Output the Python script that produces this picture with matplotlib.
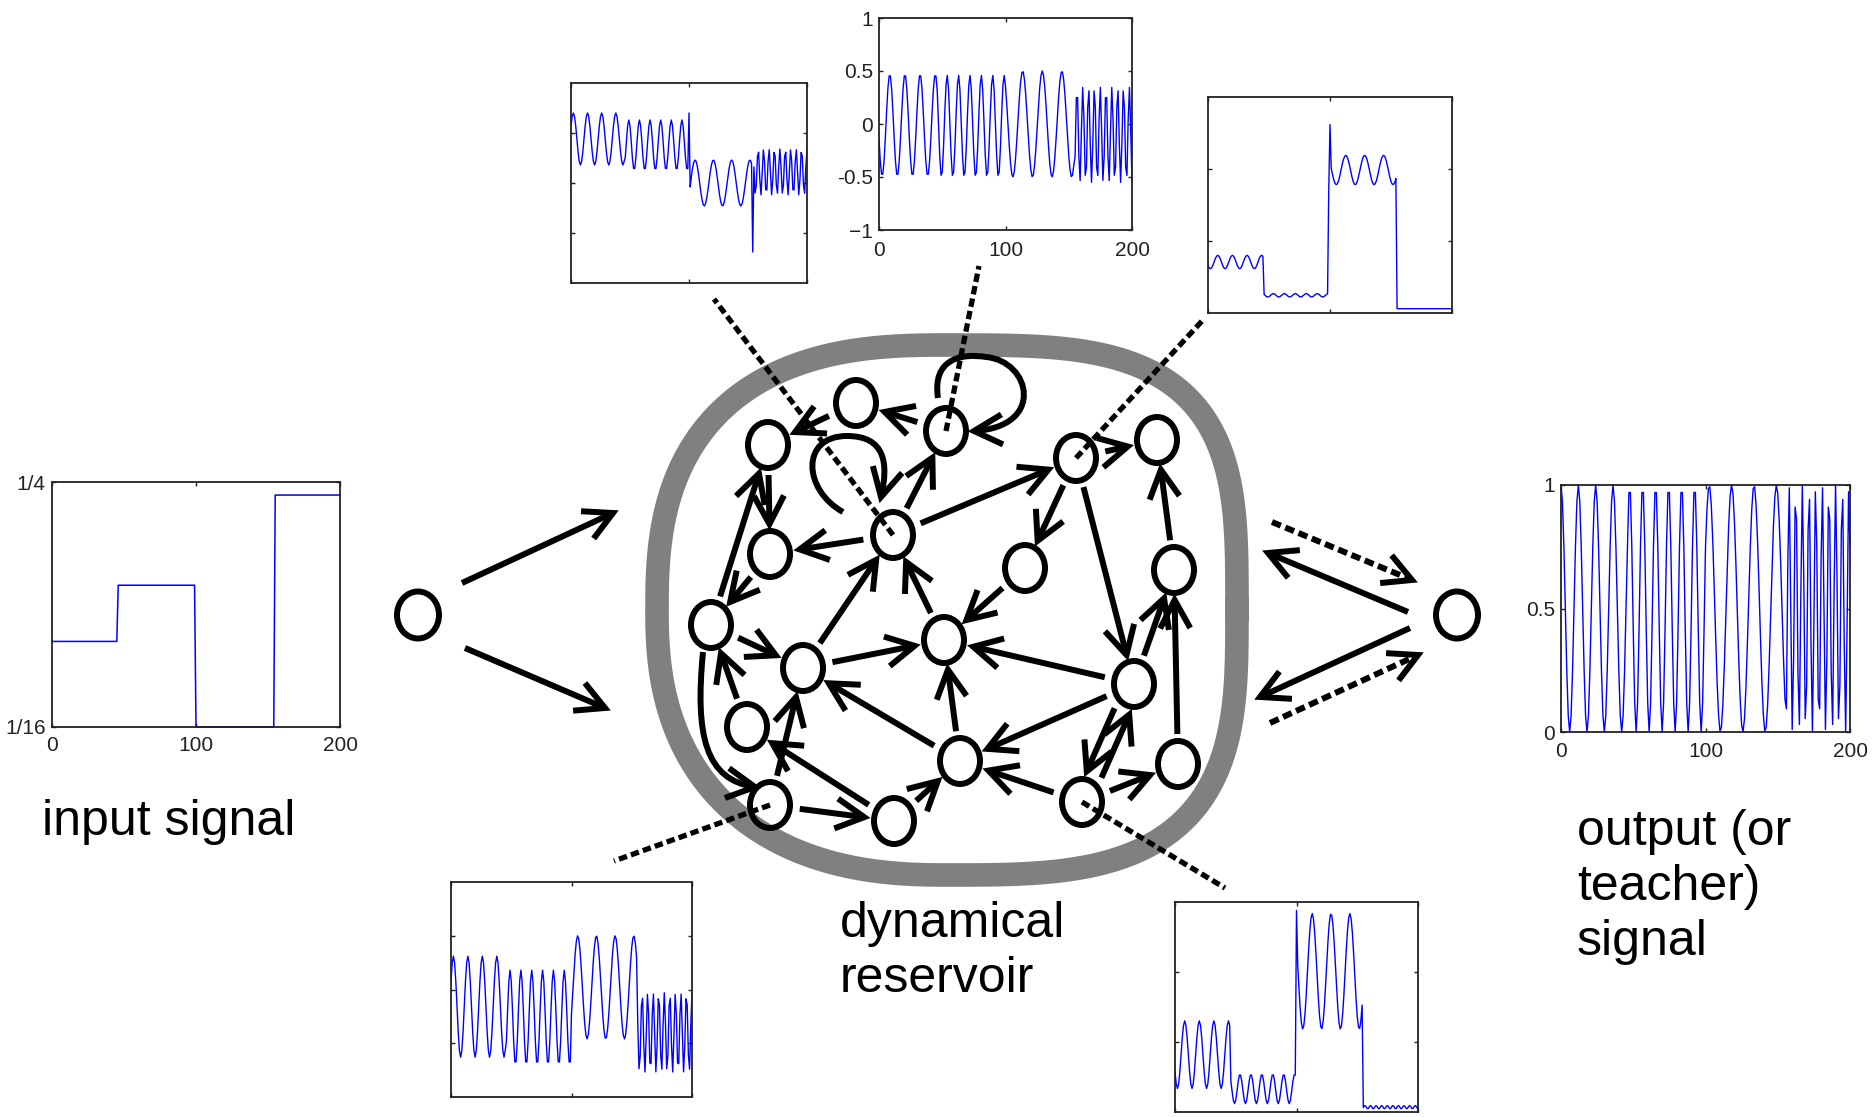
import numpy as np
import matplotlib
matplotlib.use('Agg')
import matplotlib.pyplot as plt
from matplotlib.patches import Ellipse, PathPatch
from matplotlib.path import Path

plt.rcParams['font.family'] = ['Liberation Sans', 'DejaVu Sans']

W, H = 1876, 1117

# ---------------- signals ----------------
seg_edges = [0, 46, 100, 155, 200]          # input switches level here
seg_period = [12.0, 9.0, 15.5, 4.6]         # period of the waves in each segment
input_level = [0.128, 0.171, 0.0625, 0.240]

# centre / amplitude per segment, time of the first peak, isolated spikes
out_center = [0.5, 0.5, 0.5, 0.5]
out_amp = [0.5, 0.5, 0.5, 0.5]
out_peak = 0.0

tc_center = [-0.01, -0.02, 0.0, -0.1]
tc_amp = [0.48, 0.48, 0.5, 0.45]
tc_peak = 8.5

tl_center = [0.44, 0.38, 0.0, 0.11]
tl_amp = [0.26, 0.25, 0.23, 0.23]
tl_peak = 2.0
tl_spike_t = [100, 101, 154]
tl_spike_v = [0.70, -0.04, -0.69]

tr_center = [0.236, 0.082, 0.662, 0.02]
tr_amp = [0.031, 0.008, 0.068, 0.0]
tr_peak = 8.0
tr_spike_t = [99, 100]
tr_spike_v = [0.575, 0.872]

bl_center = [-0.16, -0.26, 0.02, -0.4]
bl_amp = [0.47, 0.44, 0.48, 0.37]
bl_peak = 2.0

br_center = [0.273, 0.11, 0.67, 0.023]
br_amp = [0.161, 0.07, 0.275, 0.008]
br_peak = 8.0
br_spike_t = [100]
br_spike_v = [0.96]

# ---------------- reservoir network ----------------
node_names = list('ABCDEFGHIJKLMNOPQRS')
node_x = [768, 856, 946, 893, 770, 1076, 1157, 1025, 1174, 711,
          803, 944, 1134, 747, 770, 894, 960, 1082, 1178]
node_y = [445, 403, 431, 535, 554, 458, 440, 568, 570, 625,
          668, 640, 684, 727, 805, 821, 761, 802, 764]
edges = [('B', 'A'), ('C', 'B'), ('D', 'C'), ('D', 'F'), ('D', 'E'), ('K', 'D'),
         ('L', 'D'), ('A', 'E'), ('J', 'A'), ('E', 'J'), ('J', 'K'), ('N', 'J'),
         ('O', 'K'), ('P', 'N'), ('Q', 'K'), ('K', 'L'), ('Q', 'L'), ('M', 'L'),
         ('M', 'Q'), ('H', 'L'), ('F', 'H'), ('F', 'G'), ('F', 'M'), ('I', 'G'),
         ('M', 'I'), ('S', 'I'), ('M', 'R'), ('R', 'M'), ('R', 'S'), ('R', 'Q'),
         ('P', 'Q'), ('O', 'P')]
probe_nodes = ['D', 'C', 'F', 'O', 'R']

t = np.arange(seg_edges[0], seg_edges[-1] + 1)
seg_idx = np.clip(np.searchsorted(seg_edges, t, side='right') - 1, 0, len(seg_period) - 1)
per = np.array(seg_period)[seg_idx]
phase = 2 * np.pi * np.concatenate([[0], np.cumsum(1 / per[:-1])])


def wave(center, amp, peak, spike_t=(), spike_v=()):
    y = np.array(center)[seg_idx] + np.array(amp)[seg_idx] * np.cos(phase - 2 * np.pi * peak / seg_period[0])
    for ts, vs in zip(spike_t, spike_v):
        y[ts] = vs
    return y


fig = plt.figure(figsize=(W / 100, H / 100), dpi=100)
bg = fig.add_axes([0, 0, 1, 1])
bg.set_xlim(0, W)
bg.set_ylim(H, 0)
bg.axis('off')

LW = 4.3
DASH = (0, (1.6, 0.8))


def head(tip, u, L=32, ang=28, lw=LW):
    a = np.deg2rad(ang)
    pts = []
    for s in (1, -1):
        c, sn = np.cos(s * a), np.sin(s * a)
        v = np.array([u[0] * c - u[1] * sn, u[0] * sn + u[1] * c])
        pts.append(tip - L * v)
    bg.plot([pts[0][0], tip[0], pts[1][0]], [pts[0][1], tip[1], pts[1][1]],
            color='k', lw=lw, solid_joinstyle='miter', solid_capstyle='butt', zorder=3)


def arrow(p0, p1, dashed=False, lw=LW):
    p0 = np.asarray(p0, float)
    p1 = np.asarray(p1, float)
    u = (p1 - p0) / np.hypot(*(p1 - p0))
    bg.plot([p0[0], p1[0]], [p0[1], p1[1]], color='k', lw=lw,
            ls=DASH if dashed else '-', solid_capstyle='butt', zorder=3)
    head(p1, u, lw=lw)


def curve(pts, lw=LW):
    pts = np.asarray(pts, float)
    codes = [Path.MOVETO] + [Path.CURVE4] * (len(pts) - 1)
    bg.add_patch(PathPatch(Path(pts, codes), fill=False, lw=lw, ec='k', zorder=3))
    u = pts[-1] - pts[-2]
    head(pts[-1], u / np.hypot(*u))


# gray reservoir boundary: rounded square, each corner with its own roundness
cx, cy, ra, rb = 947, 610, 290, 265
th = np.linspace(0, 2 * np.pi, 721)
c, s = np.cos(th), np.sin(th)
nq = np.where(c >= 0, np.where(s < 0, 3.4, 3.2), np.where(s < 0, 2.6, 2.4))
rx = ra * np.sign(c) * np.abs(c) ** (2 / nq)
ry = rb * np.sign(s) * np.abs(s) ** (2 / nq)
bg.plot(cx + rx, cy + ry, color='#808080', lw=17, zorder=1)

pos = {n: np.array([x, y], float) for n, x, y in zip(node_names, node_x, node_y)}

# nodes
for n in node_names:
    bg.add_patch(Ellipse(pos[n], 40, 46, fill=False, lw=LW, ec='k', zorder=4))
for p in [(418, 615), (1457, 615)]:
    bg.add_patch(Ellipse(p, 42, 47, fill=False, lw=LW, ec='k', zorder=4))

# straight connections
for a, b in edges:
    u = pos[b] - pos[a]
    u = u / np.hypot(*u)
    nrm = np.array([-u[1], u[0]])
    off = 8 if {a, b} == {'M', 'R'} else 0
    arrow(pos[a] + 30 * u + off * nrm, pos[b] - 30 * u + off * nrm)

# self loops and curved link
D, C, J = pos['D'], pos['C'], pos['J']
curve([D + (-50, -23), D + (-90, -45), D + (-93, -99), D + (-46, -99),
       D + (-8, -99), D + (-4, -72), D + (-12, -38)])
curve([C + (-8, -33), C + (-14, -72), C + (15, -78), C + (40, -74),
       C + (85, -70), C + (100, -4), C + (28, 0)])
curve([J + (-8, 27), J + (-16, 110), J + (-6, 155), J + (44, 162)])

# input and output connections
arrow((462, 583), (613, 513))
arrow((465, 648), (605, 708))
arrow((1408, 612), (1268, 553))
arrow((1410, 628), (1260, 697))
arrow((1272, 522), (1412, 580), dashed=True)
arrow((1270, 723), (1418, 655), dashed=True)

# dashed probes from nodes to the small plots
probe_ends = [(714, 299), (979, 266), (1202, 321), (614, 861), (1225, 888)]
for n, e in zip(probe_nodes, probe_ends):
    bg.plot([pos[n][0], e[0]], [pos[n][1], e[1]], color='k', lw=3.8, ls=DASH, zorder=3)

# labels
TXT = 36
bg.text(42, 835, 'input signal', fontsize=TXT, va='baseline')
bg.text(840, 937, 'dynamical', fontsize=TXT, va='baseline')
bg.text(840, 992, 'reservoir', fontsize=TXT, va='baseline')
bg.text(1577, 845, 'output (or', fontsize=TXT, va='baseline')
bg.text(1577, 900, 'teacher)', fontsize=TXT, va='baseline')
bg.text(1577, 955, 'signal', fontsize=TXT, va='baseline')


def inset(box):
    l, tp, r, b = box
    return fig.add_axes([l / W, 1 - b / H, (r - l) / W, (b - tp) / H])


def style(ax, ylim, yticks, xlabels=None, ylabels=None, xpad=6.5, ypad=4.5):
    ax.set_xlim(0, 200)
    ax.set_ylim(*ylim)
    ax.set_xticks([0, 100, 200])
    ax.set_yticks(yticks)
    ax.tick_params(direction='in', top=True, right=True, length=3, width=1,
                   labelsize=15, colors='#222222')
    ax.tick_params(axis='x', pad=xpad)
    ax.tick_params(axis='y', pad=ypad)
    ax.set_xticklabels(xlabels if xlabels else [])
    ax.set_yticklabels(ylabels if ylabels else [])
    for sp in ax.spines.values():
        sp.set_linewidth(1.3)
        sp.set_color('#222222')


BLUE = '#0000ff'

ax = inset((52, 482, 340, 727))
ax.plot(t, np.array(input_level)[seg_idx], color=BLUE, lw=1.1, clip_on=False)
style(ax, (1 / 16, 1 / 4), [1 / 16, 1 / 4], ['0', '100', '200'], ['1/16', '1/4'])

ax = inset((1561, 485, 1850, 732))
ax.plot(t, wave(out_center, out_amp, out_peak), color=BLUE, lw=1.0, clip_on=False)
style(ax, (0, 1), [0, 0.5, 1], ['0', '100', '200'], ['0', '0.5', '1'], xpad=7)

ax = inset((879, 18, 1132, 230))
ax.plot(t, wave(tc_center, tc_amp, tc_peak), color=BLUE, lw=1.0)
style(ax, (-1, 1), [-1, -0.5, 0, 0.5, 1], ['0', '100', '200'],
      ['\u22121', '-0.5', '0', '0.5', '1'], xpad=8)

ax = inset((571, 83, 807, 283))
ax.plot(t, wave(tl_center, tl_amp, tl_peak, tl_spike_t, tl_spike_v), color=BLUE, lw=1.0)
style(ax, (-1, 1), [-0.5, 0, 0.5])

ax = inset((1208, 97, 1452, 313))
ax.plot(t, wave(tr_center, tr_amp, tr_peak, tr_spike_t, tr_spike_v), color=BLUE, lw=1.0)
style(ax, (0, 1), [1 / 3, 2 / 3])

ax = inset((451, 882, 692, 1097))
ax.plot(t, wave(bl_center, bl_amp, bl_peak), color=BLUE, lw=1.0)
style(ax, (-1, 1), [-0.5, 0, 0.5])

ax = inset((1175, 902, 1418, 1112))
ax.plot(t, wave(br_center, br_amp, br_peak, br_spike_t, br_spike_v), color=BLUE, lw=1.0)
style(ax, (0, 1), [1 / 3, 2 / 3])

fig.savefig('out.png', dpi=100, facecolor='white')
